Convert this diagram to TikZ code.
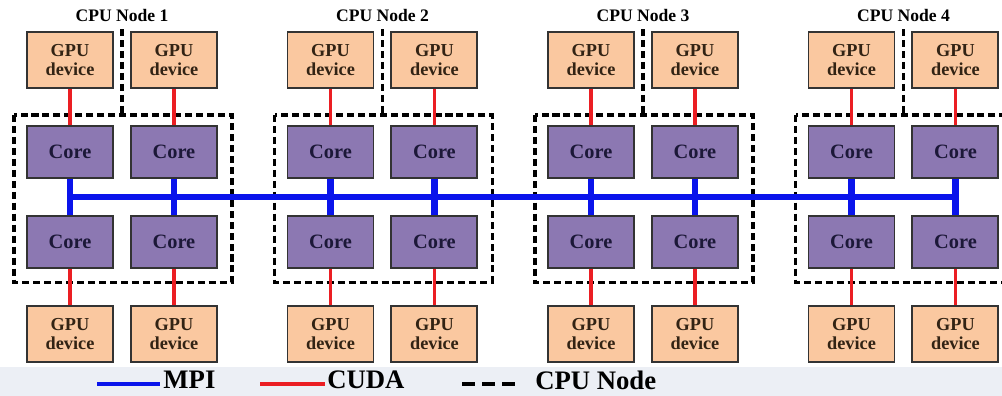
\documentclass[tikz,border=0pt]{standalone}
\usepackage{fontspec}
\setmainfont{Liberation Serif}
\usetikzlibrary{positioning, calc}

\definecolor{gpufill}{RGB}{250,200,160}
\definecolor{corefill}{RGB}{140,120,178}
\definecolor{gputext}{RGB}{50,35,20}
\definecolor{coretext}{RGB}{28,24,56}
\definecolor{mpiblue}{RGB}{10,20,235}
\definecolor{cudared}{RGB}{235,30,35}
\definecolor{bandgray}{RGB}{236,239,245}

\begin{document}
\begin{tikzpicture}[
    node distance=0.9cm and 0.4cm,
    gpu/.style={draw=black!80, line width=1.4pt, fill=gpufill, minimum width=2.15cm, minimum height=1.4cm, inner sep=0pt, align=center, text=gputext, font=\bfseries\fontsize{13}{13}\selectfont},
    core/.style={draw=black!80, line width=1.4pt, fill=corefill, minimum width=2.15cm, minimum height=1.3cm, inner sep=0pt, text=coretext, font=\bfseries\fontsize{14.5}{15}\selectfont},
    title/.style={font=\bfseries\fontsize{12.5}{12.5}\selectfont},
    legend/.style={inner sep=0pt, yshift=0.1cm, font=\bfseries\fontsize{19}{19}\selectfont},
    mpi/.style={line width=4.5pt, draw=mpiblue},
    cuda/.style={line width=2.5pt, draw=cudared},
    cpubox/.style={line width=2.2pt, dash pattern=on 5pt off 2.8pt}
]
    \useasboundingbox (0,0) rectangle (25.05,-9.9);
    \fill[bandgray] (0,-9.175) rectangle (25.05,-9.9);

    % CPU nodes
    \foreach \n in {1,...,4} {
        \node[core] (ca\n) at ({1.75+6.5125*(\n-1)}, -3.8) {Core};
        \node[core, right=of ca\n] (cb\n) {Core};
        \node[core, below=of ca\n] (cc\n) {Core};
        \node[core, below=of cb\n] (cd\n) {Core};
        \node[gpu, above=of ca\n] (ga\n) {GPU\\device};
        \node[gpu, above=of cb\n] (gb\n) {GPU\\device};
        \node[gpu, below=of cc\n] (gc\n) {GPU\\device};
        \node[gpu, below=of cd\n] (gd\n) {GPU\\device};
        \node[title] (lbl\n) at ($(ga\n.north east)!0.5!(gb\n.north west)+(0,0.4)$) {CPU Node \n};

        % node boundary
        \draw[cpubox] ($(ca\n.north west)+(-0.3,0.25)$) rectangle ($(cd\n.south east)+(0.35,-0.33)$);
        \coordinate (mt\n) at ($(ga\n.north east)!0.5!(gb\n.north west)+(0,0.05)$);
        \coordinate (mb\n) at ($(ca\n.north east)!0.5!(cb\n.north west)+(0,0.25)$);
        \draw[cpubox] (mt\n) -- (mb\n);

        % CUDA links
        \draw[cuda] (ga\n) -- (ca\n);
        \draw[cuda] (gb\n) -- (cb\n);
        \draw[cuda] (cc\n) -- (gc\n);
        \draw[cuda] (cd\n) -- (gd\n);

        % MPI links
        \draw[mpi] (ca\n.south) -- (cc\n.north);
        \draw[mpi] (cb\n.south) -- (cd\n.north);
    }

    % MPI bus
    \coordinate (busL) at ($(ca1.south)!0.5!(cc1.north)$);
    \coordinate (busR) at ($(cb4.south)!0.5!(cd4.north)$);
    \draw[mpi] (busL) -- (busR);

    % Legend
    \coordinate (mpiA) at (2.425,-9.6);
    \coordinate (mpiB) at (4.0,-9.6);
    \draw[mpi, line width=3.4pt] (mpiA) -- (mpiB);
    \node[legend, right=0.08cm of mpiB] (mpiT) {MPI};

    \coordinate (cudaA) at (6.5,-9.6);
    \coordinate (cudaB) at (8.125,-9.6);
    \draw[cuda, line width=3pt] (cudaA) -- (cudaB);
    \node[legend, right=0.05cm of cudaB] (cudaT) {CUDA};

    \coordinate (boxA) at (11.55,-9.6);
    \coordinate (boxB) at (12.875,-9.6);
    \draw[line width=3.4pt, dash pattern=on 0.33cm off 0.17cm] (boxA) -- (boxB);
    \node[legend, right=0.5cm of boxB] (boxT) {CPU Node};
\end{tikzpicture}
\end{document}
